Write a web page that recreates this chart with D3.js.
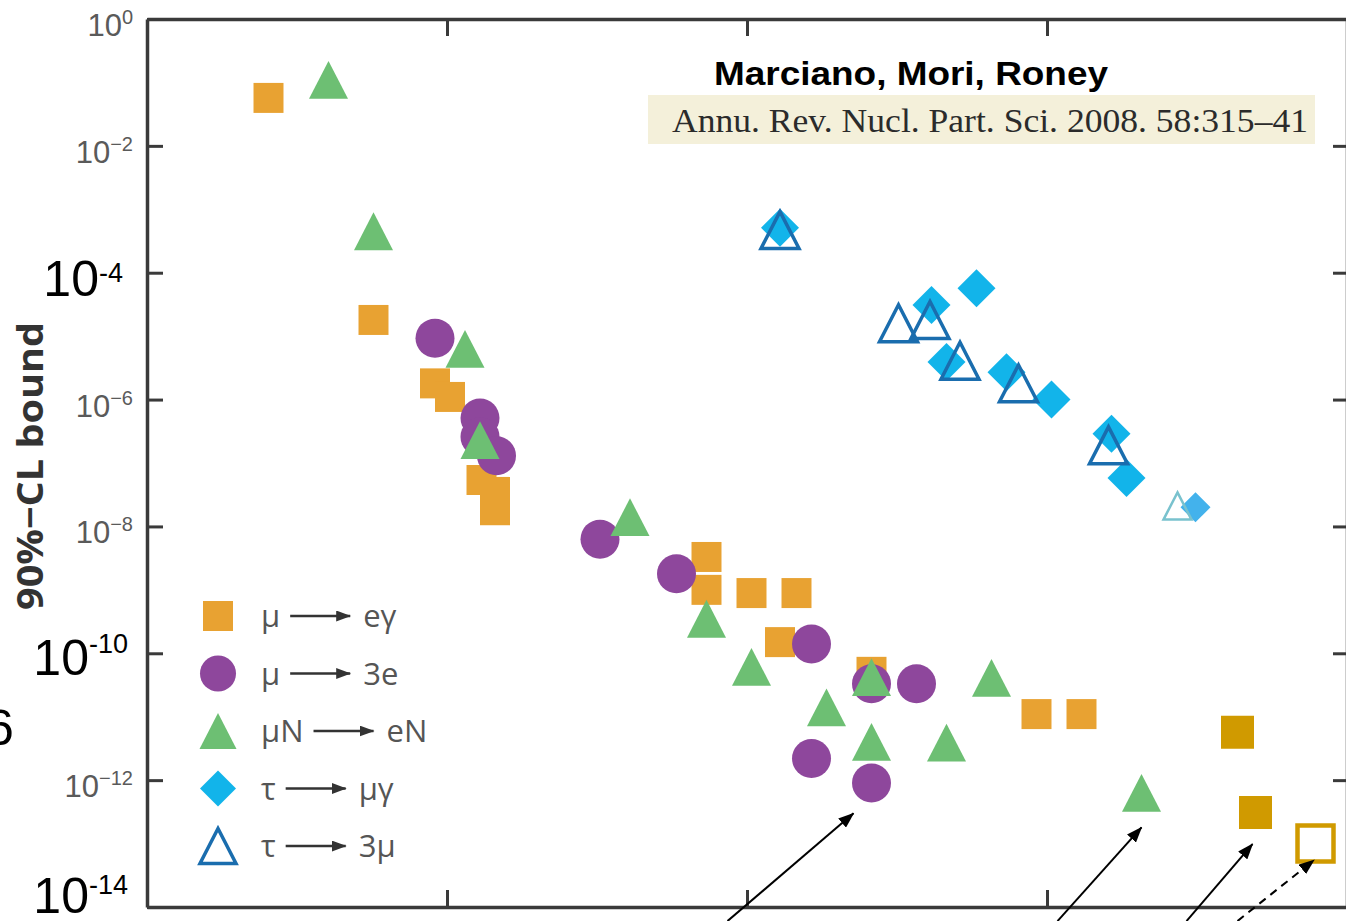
<!DOCTYPE html>
<html>
<head>
<meta charset="utf-8">
<script src="https://cdn.jsdelivr.net/npm/d3@7"></script>
<style>
  html, body { margin: 0; padding: 0; background: #fff; overflow: hidden; }
  svg { display: block; }
</style>
</head>
<body>
<div id="chart"></div>
<script>
// [year, 90% CL upper bound]
const muEGamma = [
  [1948.1, 5.7e-2], [1955.1, 1.8e-5], [1959.2, 1.8e-6], [1960.2, 1.1e-6],
  [1962.3, 5.4e-8], [1963.2, 3.5e-8], [1963.2, 1.8e-8], [1977.3, 3.3e-9],
  [1977.3, 1.0e-9], [1980.3, 8.9e-10], [1983.3, 8.9e-10], [1982.2, 1.5e-10],
  [1988.3, 5.1e-11], [1999.3, 1.1e-11], [2002.3, 1.1e-11]
];
const megResults = [[2012.7, 5.7e-12], [2013.9, 3.1e-13]];
const megProjected = [[2017.9, 1.0e-13]];
const mu3e = [
  [1959.2, 9.3e-6], [1962.2, 5.1e-7], [1962.2, 2.6e-7], [1963.3, 1.3e-7],
  [1970.2, 6.3e-9], [1975.3, 1.8e-9], [1984.3, 1.4e-10], [1988.3, 3.3e-11],
  [1991.3, 3.3e-11], [1984.3, 2.2e-12], [1988.3, 9.0e-13]
];
const muNeN = [
  [1952.1, 1.1e-1], [1955.1, 4.5e-4], [1961.2, 6.3e-6], [1962.2, 2.3e-7],
  [1972.2, 1.4e-8], [1977.3, 3.5e-10], [1980.3, 6.1e-11], [1985.3, 1.4e-11],
  [1988.3, 4.2e-11], [1988.3, 4.0e-12], [1993.3, 3.9e-12], [1996.3, 4.1e-11],
  [2006.3, 6.3e-13]
];
const tauMuGamma = [
  [1982.2, 5.1e-4], [1992.3, 3.1e-5], [1995.3, 5.7e-5], [1993.3, 3.9e-6],
  [1997.3, 2.7e-6], [2000.3, 1.0e-6], [2004.3, 2.9e-7], [2005.3, 5.8e-8]
];
const tauMuGammaNew = [[2009.9, 2.0e-8]];
const tau3mu = [
  [1982.2, 4.7e-4], [1990.1, 1.6e-5], [1992.2, 1.8e-5], [1994.2, 4.1e-6],
  [1998.1, 1.8e-6], [2004.1, 1.9e-7]
];
const tau3muNew = [[2008.7, 2.1e-8]];

// annotation arrows: [tail year, tail value, tip year, tip value, dashed]
const pointerArrows = [
  [1978.7, 6e-15, 1987.1, 3.0e-13, false],
  [2000.7, 6e-15, 2006.3, 1.8e-13, false],
  [2009.3, 6e-15, 2013.7, 9.8e-14, false],
  [2012.7, 6e-15, 2017.8, 5.5e-14, true]
];

const yTicks = [1, 1e-2, 1e-4, 1e-6, 1e-8, 1e-10, 1e-12, 1e-14];
const xTicks = [1960, 1980, 2000];
const bigTickExps = [-4, -10, -14];

const legendItems = [
  {kind: "square", from: "μ", to: "eγ"},
  {kind: "circle", from: "μ", to: "3e"},
  {kind: "triangle", from: "μN", to: "eN"},
  {kind: "diamond", from: "τ", to: "μγ"},
  {kind: "open", from: "τ", to: "3μ"}
];

const W = 1346, H = 921;
const margin = {top: 19, left: 147};
const plotW = 1200, plotH = 888;

const svg = d3.select("#chart").append("svg")
  .attr("width", W).attr("height", H);

const defs = svg.append("defs");
defs.append("marker")
  .attr("id", "head")
  .attr("viewBox", "0 0 16 12")
  .attr("refX", 15).attr("refY", 6)
  .attr("markerWidth", 16).attr("markerHeight", 12)
  .attr("markerUnits", "userSpaceOnUse")
  .attr("orient", "auto")
  .append("path").attr("d", "M0,0L16,6L0,12Z").attr("fill", "#000");
defs.append("marker")
  .attr("id", "headSmall")
  .attr("viewBox", "0 0 15 11")
  .attr("refX", 14).attr("refY", 5.5)
  .attr("markerWidth", 15).attr("markerHeight", 11)
  .attr("markerUnits", "userSpaceOnUse")
  .attr("orient", "auto")
  .append("path").attr("d", "M0,0L15,5.5L0,11Z").attr("fill", "#333");

const g = svg.append("g")
  .attr("transform", `translate(${margin.left},${margin.top})`);

const x = d3.scaleLinear().domain([1940, 2020]).range([0, plotW]);
const y = d3.scaleLog().domain([1, 1e-14]).range([0, plotH]);

function shape(kind, s) {
  if (kind === "square") return `M${-s/2},${-s/2}h${s}v${s}h${-s}Z`;
  if (kind === "diamond") return `M0,${-s}L${s},0L0,${s}L${-s},0Z`;
  // triangle centred on its bounding box
  const h = s * 0.97;
  return `M0,${-h/2}L${s/2},${h/2}L${-s/2},${h/2}Z`;
}

function drawSeries(data, kind, size, style) {
  const sel = g.append("g").selectAll("path")
    .data(data).enter().append("path")
    .attr("transform", d => `translate(${x(d[0])},${y(d[1])})`)
    .attr("d", shape(kind, size));
  Object.entries(style).forEach(([k, v]) => sel.attr(k, v));
}

// axes
const axisColor = "#3a3a3a";
function styleAxis(sel) {
  sel.select(".domain").attr("stroke", axisColor).attr("stroke-width", 3.5);
  sel.selectAll(".tick line").attr("stroke", axisColor).attr("stroke-width", 3);
  sel.selectAll(".tick text").remove();
}
g.append("g").call(d3.axisLeft(y).tickValues(yTicks).tickSizeInner(-16).tickSizeOuter(0)).call(styleAxis);
g.append("g").attr("transform", `translate(${plotW},0)`)
  .call(d3.axisRight(y).tickValues(yTicks).tickSizeInner(-14).tickSizeOuter(0)).call(styleAxis);
g.append("g").call(d3.axisTop(x).tickValues(xTicks).tickSizeInner(-17).tickSizeOuter(0)).call(styleAxis);
g.append("g").attr("transform", `translate(0,${plotH})`)
  .call(d3.axisBottom(x).tickValues(xTicks).tickSizeInner(-17).tickSizeOuter(0)).call(styleAxis);

// y tick labels: small grey originals and large black overlays
yTicks.forEach(v => {
  const e = Math.round(Math.log10(v));
  const yy = margin.top + y(v);
  const sup = e === 0 ? "0" : "−" + (-e);
  if (bigTickExps.includes(e)) {
    const supDy = e === -4 ? -14 : (e === -10 ? -22 : -19);
    const base = e === -4 ? yy + 23 : (e === -10 ? yy + 22 : yy + 6);
    const t = svg.append("text")
      .attr("x", e === -4 ? 123 : 128).attr("y", base)
      .attr("text-anchor", "end")
      .attr("font-family", "Liberation Sans, Arial, sans-serif")
      .attr("fill", "#000");
    t.append("tspan").attr("font-size", 50).text("10");
    t.append("tspan").attr("font-size", 27).attr("dy", supDy).text("-" + (-e));
  } else {
    const t = svg.append("text")
      .attr("x", 133).attr("y", yy + 17)
      .attr("text-anchor", "end")
      .attr("font-family", "Liberation Sans, Arial, sans-serif")
      .attr("fill", "#5a5a5a");
    t.append("tspan").attr("font-size", 31).text("10");
    t.append("tspan").attr("font-size", 20).attr("dy", -12).text(sup);
  }
});

// stray clipped label fragment at the left edge (cut off in the original too)
svg.append("text")
  .attr("x", -14).attr("y", 745)
  .attr("font-family", "Liberation Sans, Arial, sans-serif")
  .attr("font-size", 50).attr("fill", "#000")
  .text("6");

// y axis title
svg.append("text")
  .attr("transform", "translate(43,466) rotate(-90)")
  .attr("text-anchor", "middle")
  .attr("font-family", "Open Sans, sans-serif")
  .attr("font-weight", 700)
  .attr("font-size", 36)
  .attr("fill", "#333")
  .attr("textLength", 288)
  .attr("lengthAdjust", "spacingAndGlyphs")
  .text("90%−CL bound");

// data points (squares under circles under triangles)
drawSeries(muEGamma, "square", 30, {fill: "#E8A232"});
drawSeries(megResults, "square", 33, {fill: "#D09A00"});
drawSeries(megProjected, "square", 36, {fill: "#fff", stroke: "#D09A00", "stroke-width": 4.5});
g.append("g").selectAll("circle")
  .data(mu3e).enter().append("circle")
  .attr("cx", d => x(d[0])).attr("cy", d => y(d[1]))
  .attr("r", 19.5).attr("fill", "#8E479C");
drawSeries(muNeN, "triangle", 39, {fill: "#6DBF73"});
drawSeries(tauMuGamma, "diamond", 19, {fill: "#12B4EA"});
drawSeries(tauMuGammaNew, "diamond", 15, {fill: "#43B2EC"});
drawSeries(tau3mu, "triangle", 38, {fill: "none", stroke: "#1A6DAE", "stroke-width": 3.5});
drawSeries(tau3muNew, "triangle", 28, {fill: "none", stroke: "#79C2CE", "stroke-width": 2.5});

// pointer arrows from below the frame
g.append("g").selectAll("line")
  .data(pointerArrows).enter().append("line")
  .attr("x1", d => x(d[0])).attr("y1", d => y(d[1]))
  .attr("x2", d => x(d[2])).attr("y2", d => y(d[3]))
  .attr("stroke", "#000").attr("stroke-width", 2)
  .attr("stroke-dasharray", d => d[4] ? "8,6" : null)
  .attr("marker-end", "url(#head)");

// legend
const legend = svg.append("g").attr("transform", "translate(218,616)");
const rowH = 57.5;
legendItems.forEach((it, i) => {
  const row = legend.append("g").attr("transform", `translate(0,${i * rowH})`);
  if (it.kind === "square") row.append("path").attr("d", shape("square", 30)).attr("fill", "#E8A232");
  if (it.kind === "circle") row.append("circle").attr("r", 18).attr("fill", "#8E479C");
  if (it.kind === "triangle") row.append("path").attr("d", shape("triangle", 37)).attr("fill", "#6DBF73");
  if (it.kind === "diamond") row.append("path").attr("d", shape("diamond", 18)).attr("fill", "#12B4EA");
  if (it.kind === "open") row.append("path").attr("d", shape("triangle", 36))
    .attr("fill", "none").attr("stroke", "#1A6DAE").attr("stroke-width", 3.5);

  const txt = {"font-family": "Open Sans, sans-serif", "font-size": 31, fill: "#555"};
  const from = row.append("text").attr("x", 43).attr("y", 11).text(it.from);
  Object.entries(txt).forEach(([k, v]) => from.attr(k, v));
  const fw = from.node().getComputedTextLength();
  const ax = 43 + fw + 10;
  row.append("line")
    .attr("x1", ax).attr("y1", 0).attr("x2", ax + 60).attr("y2", 0)
    .attr("stroke", "#333").attr("stroke-width", 2.4)
    .attr("marker-end", "url(#headSmall)");
  const to = row.append("text").attr("x", ax + 73).attr("y", 11).text(it.to);
  Object.entries(txt).forEach(([k, v]) => to.attr(k, v));
});

// reference block
svg.append("rect")
  .attr("x", 648).attr("y", 95).attr("width", 667).attr("height", 49)
  .attr("fill", "#F4F0DA");
svg.append("text")
  .attr("x", 672).attr("y", 132)
  .attr("font-family", "Liberation Serif, Times New Roman, serif")
  .attr("font-size", 33).attr("fill", "#2b2b2b")
  .attr("textLength", 636).attr("lengthAdjust", "spacingAndGlyphs")
  .text("Annu. Rev. Nucl. Part. Sci. 2008. 58:315–41");
svg.append("text")
  .attr("x", 714).attr("y", 85)
  .attr("font-family", "Liberation Sans, Arial, sans-serif")
  .attr("font-weight", 700)
  .attr("font-size", 33).attr("fill", "#000")
  .attr("textLength", 394).attr("lengthAdjust", "spacingAndGlyphs")
  .text("Marciano, Mori, Roney");
</script>
</body>
</html>
